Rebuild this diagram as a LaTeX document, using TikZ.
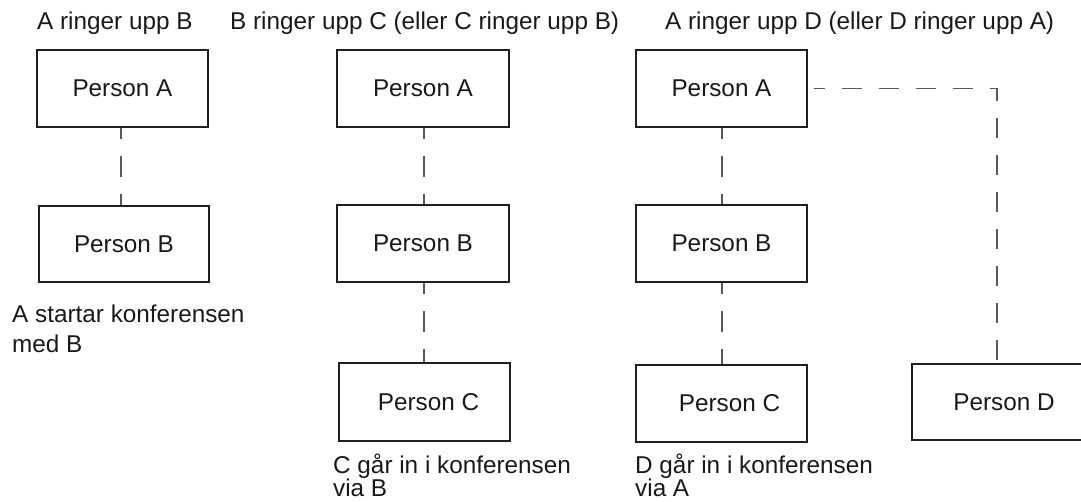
\documentclass[tikz,border=0pt]{standalone}
\usepackage{fontspec}
\setmainfont{Liberation Sans}
\begin{document}
\begin{tikzpicture}[x=1pt,y=-1pt,
  every node/.style={font=\fontsize{24.3}{29}\selectfont, text=black!90},
  person/.style={draw=black!88, line width=1.2pt, rectangle, minimum width=171pt, minimum height=77pt, inner sep=0pt},
  link/.style={draw=black!65, line width=1.3pt, dash pattern=on 21pt off 17pt, dash phase=10pt},
  title/.style={anchor=base west, inner sep=0pt},
  note/.style={anchor=base west, inner sep=0pt}]
\useasboundingbox (0,0) rectangle (1081,502);

% titles
\node[title] (t1) at (37,30) {A ringer upp B};
\node[title] (t2) at (230,30) {B ringer upp C (eller C ringer upp B)};
\node[title] (t3) at (665,30) {A ringer upp D (eller D ringer upp A)};

% column 1
\node[person] (a1) at (122.5,88.5) {Person A};
\node[person, minimum width=170pt, minimum height=76pt] (b1) at (124,244) {Person B};
\draw[link] (a1.south -| 121,0) -- (b1.north -| 121,0);
\node[note] (n1) at (12,323) {\vtop{\baselineskip=30pt\hbox{A startar konferensen}\hbox{med B}}};

% column 2
\node[person, minimum width=172pt] (a2) at (423,88.5) {Person A};
\node[person, minimum width=172pt] (b2) at (423,243.5) {Person B};
\node[person, minimum height=78pt] (c2) at (424.5,402) {\hspace*{8pt}Person C};
\draw[link] (a2.south -| 424,0) -- (b2.north -| 424,0);
\draw[link] (b2.south -| 424,0) -- (c2.north -| 424,0);
\node[note] (n2) at (333,473) {\vtop{\baselineskip=23.5pt\hbox{C går in i konferensen}\hbox{via B}}};

% column 3
\node[person] (a3) at (721.5,88.5) {Person A};
\node[person] (b3) at (721.5,243.5) {Person B};
\node[person] (c3) at (721.5,403.5) {\hspace*{16pt}Person C};
\draw[link] (a3.south -| 722,0) -- (b3.north -| 722,0);
\draw[link] (b3.south -| 722,0) -- (c3.north -| 722,0);
\node[note] (n3) at (635,473) {\vtop{\baselineskip=23.5pt\hbox{D går in i konferensen}\hbox{via A}}};

% person D
\node[person, minimum width=170pt, minimum height=76pt] (d3) at (997,402) {\hspace*{14pt}Person D};
\draw[link, dash pattern=on 20pt off 17pt, dash phase=9pt] ([xshift=6pt]a3.east) -| (d3.north);
\end{tikzpicture}
\end{document}
